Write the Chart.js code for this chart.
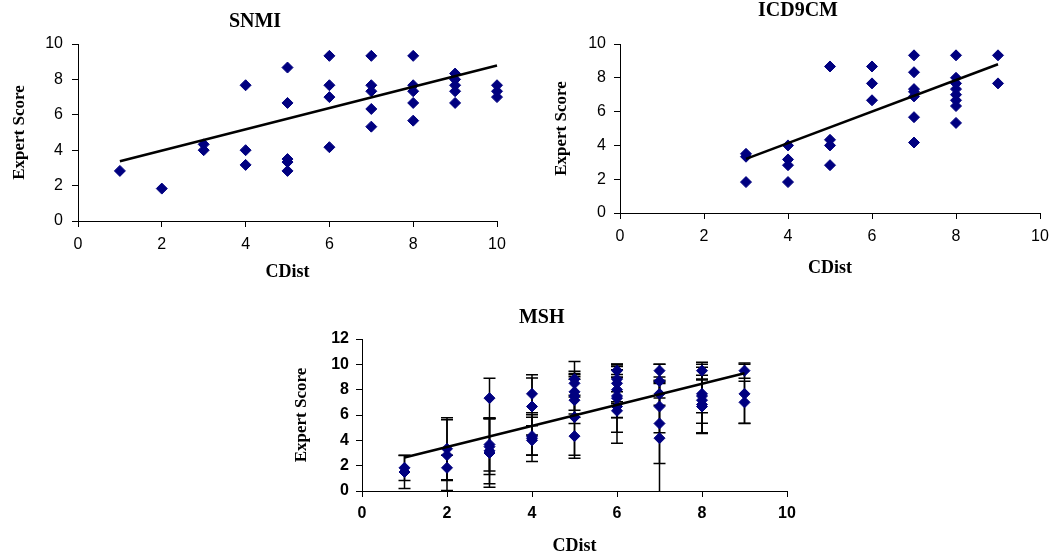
<!DOCTYPE html>
<html>
<head>
<meta charset="utf-8">
<script src="https://cdn.jsdelivr.net/npm/chart.js@4.4.1/dist/chart.umd.min.js"></script>
<style>
  body { margin: 0; background: #fff; width: 1059px; height: 557px; position: relative; overflow: hidden; }
  canvas { position: absolute; }
</style>
</head>
<body>
<canvas id="snmiChart" width="530" height="290" style="left:0px;top:0px"></canvas>
<canvas id="icdChart" width="529" height="290" style="left:530px;top:0px"></canvas>
<canvas id="mshChart" width="520" height="267" style="left:280px;top:290px"></canvas>
<script>
// SNMI
const snmiX = [1, 2, 3, 3, 4, 4, 4, 5, 5, 5, 5, 5, 6, 6, 6, 6, 7, 7, 7, 7, 7, 8, 8, 8, 8, 8, 9, 9, 9, 9, 9, 10, 10, 10];
const snmiY = [2.83, 1.83, 4.33, 4.0, 7.67, 4.0, 3.17, 8.67, 6.67, 3.5, 3.33, 2.83, 9.33, 7.67, 7.0, 4.17,
  9.33, 7.67, 7.33, 6.33, 5.33, 9.33, 7.67, 7.33, 6.67, 5.67, 8.33, 8.0, 7.67, 7.33, 6.67, 7.67, 7.33, 7.0];
const snmiTrendX = [1, 10];
const snmiTrendY = [3.38, 8.79];

// ICD9CM
const icdX = [3, 3, 3, 4, 4, 4, 4, 5, 5, 5, 5, 6, 6, 6, 7, 7, 7, 7, 7, 7, 7, 8, 8, 8, 8, 8, 8, 8, 8, 9, 9];
const icdY = [3.5, 3.33, 1.83, 4.0, 3.17, 2.83, 1.83, 8.67, 4.33, 4.0, 2.83, 8.67, 7.67, 6.67,
  9.33, 8.33, 7.33, 7.17, 6.9, 5.67, 4.17, 9.33, 8.0, 7.67, 7.33, 7.0, 6.67, 6.33, 5.33, 9.33, 7.67];
const icdTrendX = [3, 9];
const icdTrendY = [3.2, 8.8];

// MSH (with error bars)
const mshX = [1, 1, 2, 2, 2, 3, 3, 3, 3, 3, 4, 4, 4, 4, 4, 5, 5, 5, 5, 5, 5, 5,
  6, 6, 6, 6, 6, 6, 6, 6, 7, 7, 7, 7, 7, 7, 8, 8, 8, 8, 8, 8, 9, 9, 9];
const mshY = [1.83, 1.5, 3.33, 2.83, 1.83, 7.33, 3.67, 3.5, 3.17, 3.0, 7.67, 6.67, 4.33, 4.17, 4.0,
  8.83, 8.5, 7.83, 7.5, 7.17, 5.83, 4.33, 9.5, 8.83, 8.5, 8.0, 7.5, 7.33, 6.67, 6.33,
  9.5, 8.67, 7.67, 6.67, 5.33, 4.17, 9.5, 7.67, 7.5, 7.17, 6.83, 6.67, 9.5, 7.67, 7.0];
const mshErr = [1.0, 1.3, 2.45, 2.8, 1.0, 1.58, 2.1, 2.2, 2.6, 2.7, 1.5, 2.25, 1.5, 1.85, 1.15,
  1.4, 0.95, 1.45, 1.67, 1.85, 3.0, 1.75, 0.5, 1.0, 1.45, 0.95, 1.7, 2.7, 2.9, 0.55,
  0.5, 1.33, 0.9, 2.07, 3.15, 4.5, 0.67, 2.33, 1.33, 2.6, 2.3, 2.1, 0.6, 2.33, 1.67];
const mshTrendX = [1, 9];
const mshTrendY = [2.65, 9.3];

const serif = '"Liberation Serif", "Times New Roman", serif';
const sans = '"Liberation Sans", Arial, sans-serif';

// vertical error bars with caps, drawn under the markers
const errorBars = {
  id: 'errorBars',
  beforeDatasetsDraw(chart, args, opts) {
    if (!opts.show) return;
    const ctx = chart.ctx;
    const area = chart.chartArea;
    const y = chart.scales.y;
    const meta = chart.getDatasetMeta(1);
    const data = chart.data.datasets[1].data;
    ctx.save();
    ctx.beginPath();
    ctx.rect(area.left, area.top, area.right - area.left, area.bottom - area.top);
    ctx.clip();
    ctx.strokeStyle = '#000';
    ctx.lineWidth = 1.5;
    meta.data.forEach((el, i) => {
      const d = data[i];
      const top = y.getPixelForValue(d.y + d.err);
      const bot = y.getPixelForValue(d.y - d.err);
      ctx.beginPath();
      ctx.moveTo(el.x, top);
      ctx.lineTo(el.x, bot);
      ctx.moveTo(el.x - 6, top);
      ctx.lineTo(el.x + 6, top);
      ctx.moveTo(el.x - 6, bot);
      ctx.lineTo(el.x + 6, bot);
      ctx.stroke();
    });
    ctx.restore();
  }
};
Chart.register(errorBars);

function scatterChart(id, o) {
  const points = o.xs.map((x, i) => ({ x: x, y: o.ys[i], err: o.err ? o.err[i] : 0 }));
  const trend = o.trendX.map((x, i) => ({ x: x, y: o.trendY[i] }));
  const tickFont = { family: sans, size: 16, weight: o.boldTicks ? 'bold' : 'normal' };
  return new Chart(document.getElementById(id), {
    type: 'scatter',
    data: {
      datasets: [
        { type: 'line', data: trend, borderColor: '#000', borderWidth: 2.5, pointRadius: 0,
          fill: false, clip: false, order: 0 },
        { data: points, pointStyle: 'rectRot', pointRadius: o.r, pointHoverRadius: o.r,
          backgroundColor: '#000080', borderColor: '#000080', borderWidth: 1, clip: false, order: 1 }
      ]
    },
    options: {
      responsive: false,
      animation: false,
      events: [],
      layout: { padding: { left: o.padL, right: o.padR, top: 0, bottom: 0 } },
      plugins: {
        legend: { display: false },
        tooltip: { enabled: false },
        errorBars: { show: !!o.err },
        title: {
          display: true, text: o.title, color: '#000',
          font: { family: serif, size: 20, weight: 'bold' },
          padding: { top: o.titleTop, bottom: o.titleBottom }
        }
      },
      scales: {
        x: {
          type: 'linear', min: 0, max: 10,
          ticks: { stepSize: 2, color: '#000', padding: o.xTickPad, font: tickFont },
          grid: { drawOnChartArea: false, color: '#000', tickLength: 6 },
          border: { color: '#000', width: 1 },
          title: { display: true, text: 'CDist', color: '#000',
            font: { family: serif, size: 18, weight: 'bold' },
            padding: { top: 0, bottom: o.xTitlePad } },
          afterFit: s => { s.height = o.xH; s.paddingLeft = 0; s.paddingRight = 0; }
        },
        y: {
          type: 'linear', min: 0, max: o.yMax,
          ticks: { stepSize: 2, color: '#000', padding: o.yTickPad, font: tickFont },
          grid: { drawOnChartArea: false, color: '#000', tickLength: 6 },
          border: { color: '#000', width: 1 },
          title: { display: true, text: 'Expert Score', color: '#000',
            font: { family: serif, size: 17, weight: 'bold' },
            padding: { top: o.yTitlePad, bottom: 0 } },
          afterFit: s => { s.width = o.yW; s.paddingTop = 0; s.paddingBottom = 0; }
        }
      }
    }
  });
}

scatterChart('snmiChart', {
  title: 'SNMI', xs: snmiX, ys: snmiY, trendX: snmiTrendX, trendY: snmiTrendY, r: 5.5,
  yMax: 10, padL: 13, padR: 33, yW: 65, xH: 69, titleTop: 10, titleBottom: 10,
  yTitlePad: -3.5, xTitlePad: 6.7, xTickPad: 7.9, yTickPad: 9
});

scatterChart('icdChart', {
  title: 'ICD9CM', xs: icdX, ys: icdY, trendX: icdTrendX, trendY: icdTrendY, r: 5.5,
  yMax: 10, padL: 26, padR: 19, yW: 64, xH: 77, titleTop: -1, titleBottom: 21,
  yTitlePad: -5, xTitlePad: 11.2, xTickPad: 8.1, yTickPad: 8
});

scatterChart('mshChart', {
  title: 'MSH', xs: mshX, ys: mshY, err: mshErr, trendX: mshTrendX, trendY: mshTrendY, r: 5.5,
  yMax: 12, boldTicks: true, padL: 16.4, padR: 13, yW: 65.6, xH: 66, titleTop: 15.5, titleBottom: 9.5,
  yTitlePad: -4.5, xTitlePad: 0, xTickPad: 7.4, yTickPad: 7
});
</script>
</body>
</html>
